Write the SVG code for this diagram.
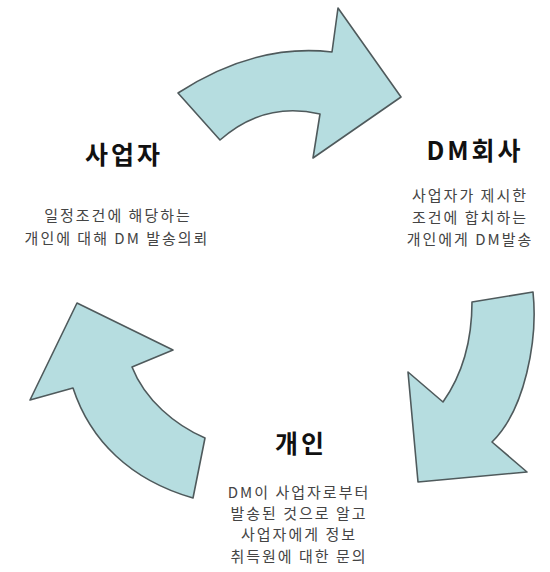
<svg xmlns="http://www.w3.org/2000/svg" width="550" height="572" viewBox="0 0 550 572">
<style>
.arrow{fill:#b6dde0;stroke:#4f5a5c;stroke-width:1.6;stroke-linejoin:round}
.title{font-family:"Noto Sans CJK KR","Noto Sans",sans-serif;font-weight:bold;font-size:25px;letter-spacing:3px;fill:#111;text-anchor:middle}
.desc{font-family:"Noto Sans CJK KR","Noto Sans",sans-serif;font-size:15px;letter-spacing:2px;fill:#444;text-anchor:middle}
</style>
<rect width="550" height="572" fill="#ffffff"/>
<g id="connectors">
<path class="arrow" d="M178,93 Q255,43 332,52 L338,8 L401,97 L313,158 L320,114 Q264,101 220,140 Z"/>
<path class="arrow" d="M533,292 C538,340 525,410 492,442 L527,472 L418,482 L408,372 L443,402 C462,375 472,340 472,302 Z"/>
<path class="arrow" d="M205,438 C175,425 145,400 132,367 L173,350 L77,303 L30,400 L73,388 C90,440 130,480 193,498 Z"/>
</g>
<g id="node-business">
<text class="title" x="124" y="164">사업자</text>
<text class="desc" x="118" y="221">일정조건에 해당하는</text>
<text class="desc" x="117" y="244">개인에 대해 DM 발송의뢰</text>
</g>
<g id="node-dm">
<text class="title" x="475" y="160">DM회사</text>
<text class="desc" x="470" y="201">사업자가 제시한</text>
<text class="desc" x="470" y="223">조건에 합치하는</text>
<text class="desc" x="470" y="245">개인에게 DM발송</text>
</g>
<g id="node-person">
<text class="title" x="301" y="453">개인</text>
<text class="desc" x="299" y="498">DM이 사업자로부터</text>
<text class="desc" x="299" y="519">발송된 것으로 알고</text>
<text class="desc" x="299" y="540">사업자에게 정보</text>
<text class="desc" x="299" y="562">취득원에 대한 문의</text>
</g>
</svg>
